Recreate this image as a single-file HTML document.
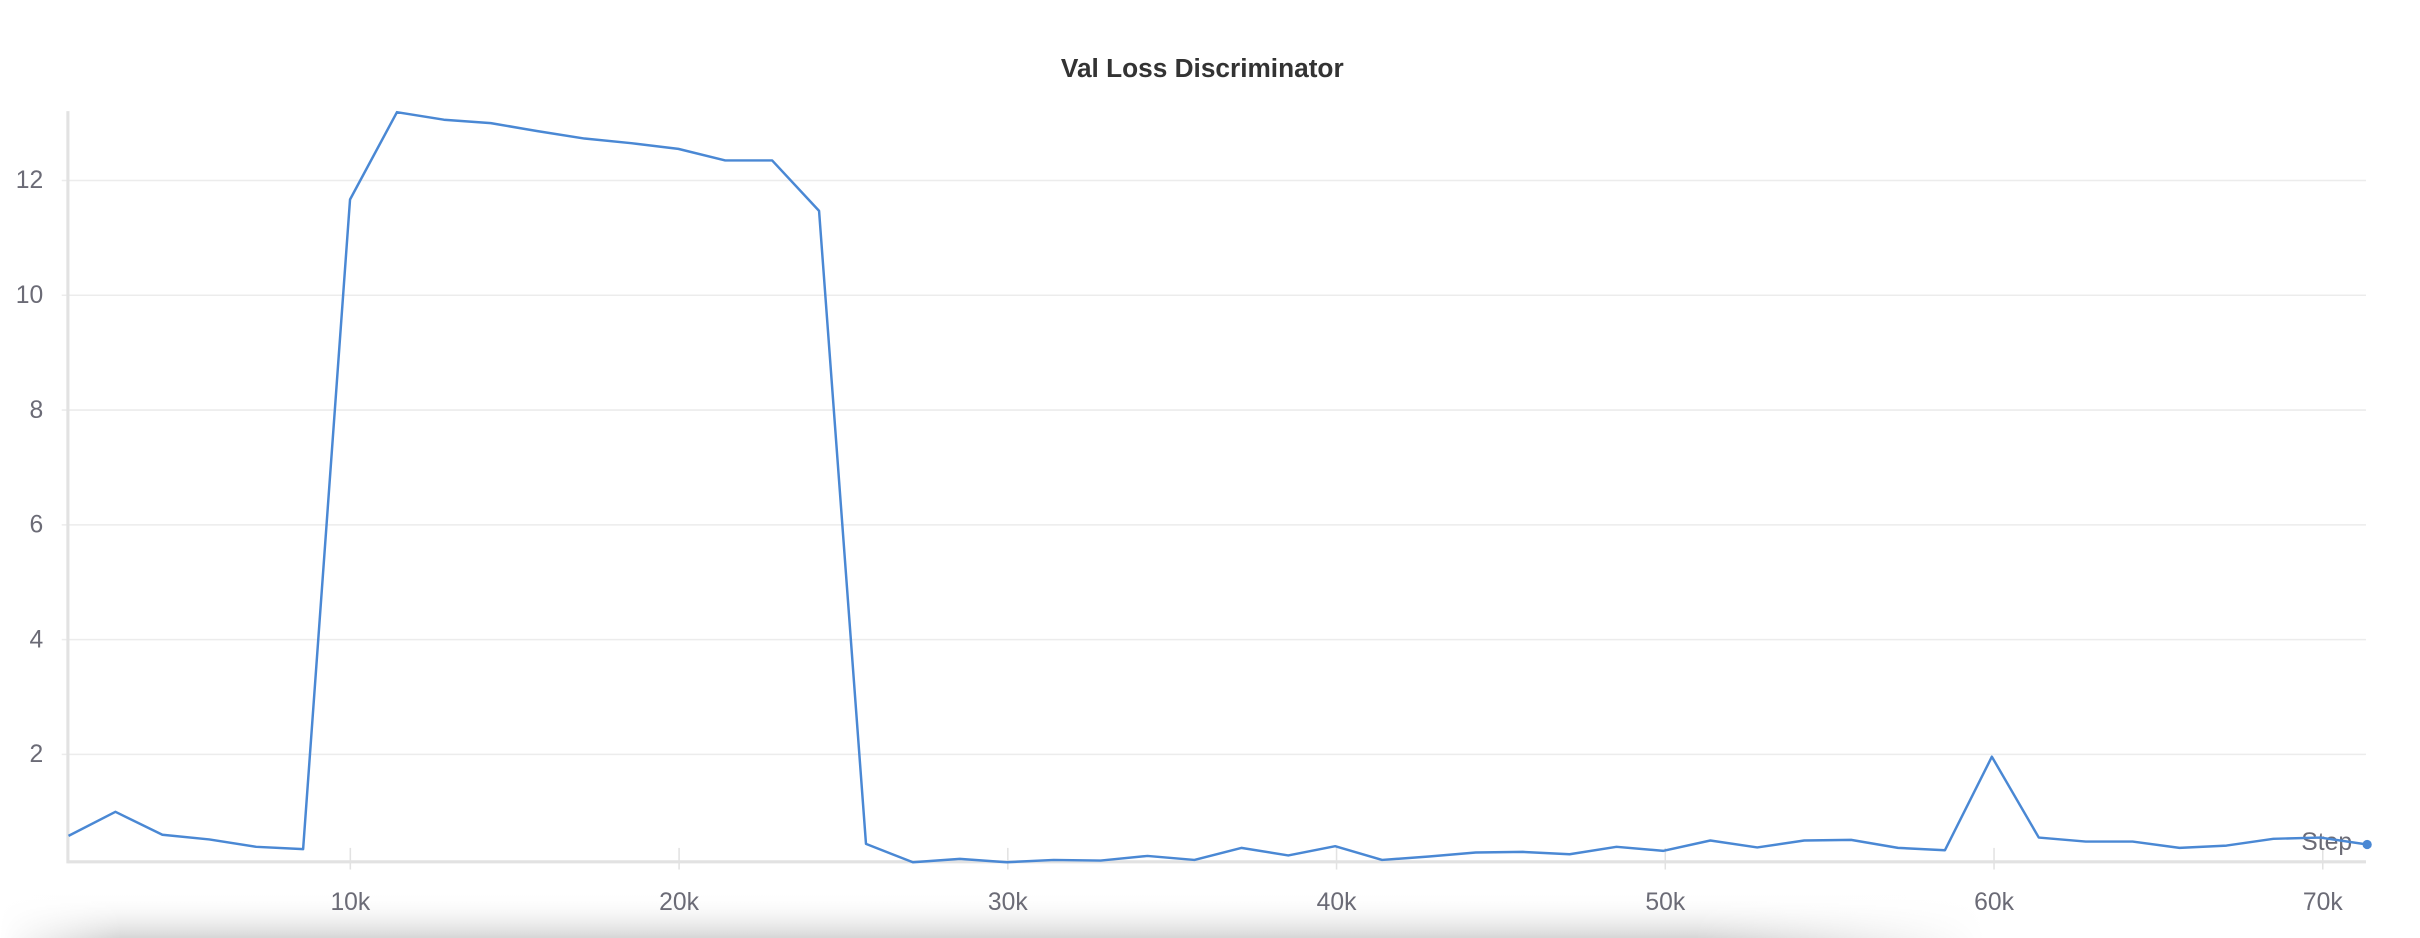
<!DOCTYPE html>
<html><head><meta charset="utf-8"><style>
html,body{margin:0;padding:0;background:#fff;}
svg{display:block;}
text{font-family:"Liberation Sans",sans-serif;}
</style></head><body>
<svg id="chart" width="2420" height="938" viewBox="0 0 1568 608" preserveAspectRatio="none" xmlns="http://www.w3.org/2000/svg">
<defs>
<linearGradient id="sh" x1="0" y1="0" x2="0" y2="1"><stop offset="0" stop-color="#fff" stop-opacity="0"/><stop offset="1" stop-color="#d6d6d6"/></linearGradient>
<linearGradient id="shx" x1="0" y1="0" x2="1" y2="0"><stop offset="0" stop-color="#fff"/><stop offset="0.05" stop-color="#fff" stop-opacity="0"/><stop offset="0.7" stop-color="#fff" stop-opacity="0"/><stop offset="0.82" stop-color="#fff"/></linearGradient>
</defs>
<rect x="0" y="578" width="1568" height="30" fill="url(#sh)"/>
<rect x="0" y="578" width="1568" height="30" fill="url(#shx)"/>
<text x="779" y="50" text-anchor="middle" font-size="17" font-weight="bold" fill="#333">Val Loss Discriminator</text>
<g id="grid"></g><g id="axes"></g><g id="series"></g>
</svg>
<script>
const steps = [];
for (let k = 1; k <= 50; k++) steps.push(1427 * k);
const values = [0.58,1.0,0.60,0.52,0.39,0.35,11.67,13.19,13.06,13.0,12.86,12.73,12.65,12.55,12.35,12.35,11.47,0.44,0.12,0.18,0.12,0.16,0.15,0.23,0.16,0.37,0.24,0.40,0.16,0.22,0.29,0.30,0.26,0.39,0.32,0.50,0.38,0.50,0.51,0.37,0.33,1.96,0.55,0.48,0.48,0.37,0.41,0.53,0.55,0.43];
const yTicks = [2,4,6,8,10,12];
const xTicks = [10000,20000,30000,40000,50000,60000,70000];
const xTickLabels = ["10k","20k","30k","40k","50k","60k","70k"];

const NS = "http://www.w3.org/2000/svg";
const X = s => 14 + 21.3 * s / 1000;
const Y = v => 563.4 - 37.2 * v;
const L = 44, R = 1533, T = 72, B = 558.6;
function mk(tag, attrs, parent) {
  const e = document.createElementNS(NS, tag);
  for (const k in attrs) e.setAttribute(k, attrs[k]);
  parent.appendChild(e); return e;
}
const grid = document.getElementById('grid'), axes = document.getElementById('axes'), series = document.getElementById('series');
yTicks.forEach(v => {
  const g = mk('line', {x1: L - 4, x2: R, y1: Y(v), y2: Y(v), stroke: '#ececec', 'stroke-width': 1}, grid);
  
  
  const t = mk('text', {x: 28, y: Y(v) + 5, 'text-anchor': 'end', 'font-size': 16, fill: '#6b6b76'}, axes);
  t.textContent = v;
  
  
});
const ya = mk('line', {x1: L, x2: L, y1: T, y2: B + 1, stroke: '#e2e2e2', 'stroke-width': 2}, axes);


const xa = mk('line', {x1: L, x2: R, y1: B, y2: B, stroke: '#e2e2e2', 'stroke-width': 2}, axes);


xTicks.forEach((s, i) => {
  const tk = mk('line', {x1: X(s), x2: X(s), y1: B - 9, y2: B + 5, stroke: '#e2e2e2', 'stroke-width': 1}, axes);
  
  
  const t = mk('text', {x: X(s), y: 590, 'text-anchor': 'middle', 'font-size': 16, fill: '#6b6b76'}, axes);
  t.textContent = xTickLabels[i];
  
  
});
const st = mk('text', {x: 1524, y: 551, 'text-anchor': 'end', 'font-size': 16, fill: '#6b6b76'}, axes);
st.textContent = 'Step';


const pts = steps.map((s, i) => X(s).toFixed(1) + ',' + Y(values[i]).toFixed(1)).join(' ');
const line = mk('polyline', {points: pts, fill: 'none', stroke: '#4a88d4', 'stroke-width': 1.6, 'stroke-linejoin': 'round'}, series);


const n = steps.length - 1;
const dot = mk('circle', {cx: X(steps[n]), cy: Y(values[n]), r: 3, fill: '#4a88d4'}, series);


</script>
</body></html>
